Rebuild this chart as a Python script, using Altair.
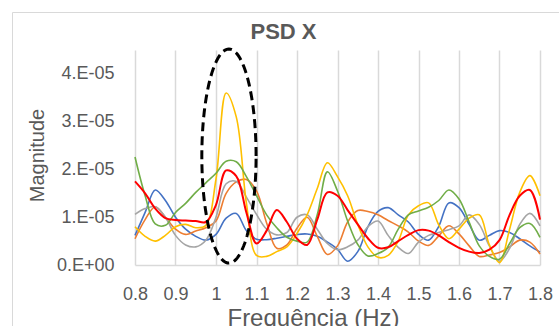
import altair as alt
import numpy as np
import pandas as pd

# Frequency grid (Hz) at which the curves were read
freq = [0.800, 0.825, 0.850, 0.875, 0.900, 0.925, 0.950, 0.975,
        1.000, 1.025, 1.050, 1.075, 1.100, 1.125, 1.150, 1.175,
        1.200, 1.225, 1.250, 1.275, 1.300, 1.325, 1.350, 1.375,
        1.400, 1.425, 1.450, 1.475, 1.500, 1.525, 1.550, 1.575,
        1.600, 1.625, 1.650, 1.675, 1.700, 1.725, 1.750, 1.775, 1.800]

# Magnitudes in units of 1E-05
blue = [0.62, 1.10, 1.57, 1.35, 1.00, 0.75, 0.60, 0.52,
        0.64, 0.98, 1.08, 0.72, 0.54, 0.53, 0.56, 0.60,
        0.64, 0.65, 0.60, 0.48, 0.33, 0.08, 0.28, 0.80,
        1.12, 1.20, 1.05, 0.90, 0.64, 0.52, 0.81, 1.30,
        1.20, 0.85, 0.52, 0.62, 0.72, 0.68, 0.55, 0.40, 0.27]
orange = [0.55, 0.95, 1.22, 1.00, 0.75, 0.64, 0.71, 0.78,
          0.92, 1.50, 1.74, 1.79, 1.55, 0.88, 0.35, 0.42,
          0.77, 1.00, 0.60, 0.22, 0.40, 0.90, 1.14, 1.12,
          1.05, 0.93, 0.82, 0.69, 0.50, 0.41, 0.61, 0.82,
          0.65, 0.40, 0.18, 0.21, 0.26, 0.38, 0.52, 0.48, 0.23]
gray = [1.06, 1.18, 1.22, 1.00, 0.62, 0.42, 0.38, 0.52,
        1.00, 1.70, 1.75, 1.42, 1.06, 0.75, 0.63, 0.68,
        1.00, 1.05, 0.75, 0.45, 0.32, 0.38, 0.52, 0.80,
        0.92, 0.62, 0.37, 0.24, 0.48, 0.62, 0.68, 0.74,
        0.82, 1.05, 0.85, 0.40, 0.08, 0.35, 0.85, 1.08, 0.82]
yellow = [0.80, 0.60, 0.50, 0.62, 0.80, 0.85, 0.78, 0.83,
          1.80, 3.60, 3.10, 1.30, 0.20, 0.18, 0.28, 0.38,
          0.66, 1.05, 1.60, 2.14, 1.85, 1.45, 0.85, 0.38,
          0.16, 0.20, 0.50, 1.05, 1.24, 1.30, 0.84, 0.55,
          0.75, 0.98, 1.05, 0.42, 0.05, 0.75, 1.52, 1.87, 1.45]
green = [2.26, 1.45, 0.86, 0.83, 1.10, 1.29, 1.52, 1.72,
         1.92, 2.17, 2.16, 1.85, 1.45, 1.05, 0.78, 0.58,
         0.50, 0.48, 1.05, 1.95, 1.55, 0.92, 0.43, 0.19,
         0.24, 0.37, 0.75, 1.05, 1.13, 1.21, 1.35, 1.57,
         1.38, 0.90, 0.40, 0.18, 0.12, 0.45, 0.78, 0.87, 0.58]
red = [1.75, 1.50, 1.18, 0.98, 0.94, 0.93, 0.92, 0.90,
       1.26, 1.98, 1.86, 1.10, 0.45, 0.72, 1.15, 0.90,
       0.55, 0.42, 0.95, 1.52, 1.45, 1.15, 0.85, 0.56,
       0.36, 0.37, 0.50, 0.63, 0.73, 0.72, 0.62, 0.48,
       0.36, 0.28, 0.25, 0.32, 0.52, 1.05, 1.45, 1.57, 0.95]

names = ["Série 1", "Série 2", "Série 3", "Série 4", "Série 5"]
colors = ["#4472C4", "#ED7D31", "#A5A5A5", "#FFC000", "#70AD47"]
x_ticks = [0.8, 0.9, 1.0, 1.1, 1.2, 1.3, 1.4, 1.5, 1.6, 1.7, 1.8]
y_ticks = [0, 1e-05, 2e-05, 3e-05, 4e-05]

# Dashed ellipse annotation (centre and radii in data units)
ell_cx, ell_cy, ell_rx, ell_ry = 1.032, 2.28, 0.067, 2.24

rows = []
for n, vals in zip(names, [blue, orange, gray, yellow, green]):
    for f, v in zip(freq, vals):
        rows.append({"series": n, "freq": f, "mag": v * 1e-05})
df_main = pd.DataFrame(rows)
df_red = pd.DataFrame({"freq": freq, "mag": [v * 1e-05 for v in red]})

t = np.linspace(0, 2 * np.pi, 121)
df_ell = pd.DataFrame({
    "i": np.arange(len(t)),
    "freq": ell_cx + ell_rx * np.cos(t),
    "mag": (ell_cy + ell_ry * np.sin(t)) * 1e-05,
})

FONT = "Liberation Sans"
GREY = "#595959"

x_enc = alt.X("freq:Q",
              scale=alt.Scale(domain=[0.8, 1.8], nice=False, zero=False),
              axis=alt.Axis(values=x_ticks, format="~g", grid=True,
                            gridColor="#d9d9d9", gridWidth=1.5,
                            domainColor="#d9d9d9", domainWidth=1.5,
                            ticks=False, labelPadding=20, labelFontSize=18,
                            labelColor=GREY, labelFont=FONT, labelFlush=False,
                            title="Frequência (Hz)", titleFont=FONT,
                            titleFontSize=24, titleFontWeight="normal",
                            titleColor=GREY, titleX=178, titleY=60,
                            titleBaseline="alphabetic"))
y_enc = alt.Y("mag:Q",
              scale=alt.Scale(domain=[0, 4.5e-05], nice=False),
              axis=alt.Axis(values=y_ticks,
                            labelExpr="datum.value == 0 ? '0.E+00' : format(datum.value * 100000, '.0f') + '.E-05'",
                            grid=False, domain=False, ticks=False,
                            labelPadding=21, labelFontSize=18,
                            labelColor=GREY, labelFont=FONT,
                            title="Magnitude", titleFont=FONT,
                            titleFontSize=20, titleFontWeight="normal",
                            titleColor=GREY, titleX=-92, titleY=105,
                            titleAngle=-90, titleAlign="center",
                            titleBaseline="alphabetic"))

lines = alt.Chart(df_main).mark_line(
    interpolate="catmull-rom", strokeWidth=1.6, clip=False
).encode(
    x=x_enc, y=y_enc,
    color=alt.Color("series:N", scale=alt.Scale(domain=names, range=colors),
                    legend=None),
)

red_line = alt.Chart(df_red).mark_line(
    interpolate="catmull-rom", strokeWidth=2.0, color="#FF0000", clip=False
).encode(x="freq:Q", y="mag:Q")

ellipse = alt.Chart(df_ell).mark_line(
    color="black", strokeWidth=3, strokeDash=[9, 5], clip=False
).encode(x="freq:Q", y="mag:Q", order="i:Q")

one = alt.Data(values=[{}])
frame_v = alt.Chart(one).mark_rule(color="#d9d9d9", strokeWidth=1).encode(
    x=alt.value(-122.5), y=alt.value(-37.5), y2=alt.value(300))
frame_h = alt.Chart(one).mark_rule(color="#d9d9d9", strokeWidth=1).encode(
    x=alt.value(-122.5), x2=alt.value(500), y=alt.value(-37.5))

chart = alt.layer(lines, red_line, ellipse, frame_v, frame_h).properties(
    width=405, height=215,
    padding={"left": 135, "top": 50, "right": 19, "bottom": 61},
    autosize="none",
    background="white",
    title=alt.TitleParams("PSD X", font=FONT, fontSize=22, fontWeight="bold",
                          color=GREY, anchor="middle", frame="group",
                          dx=-54, dy=60, baseline="alphabetic", offset=11),
).configure_view(strokeWidth=0)

chart.save("out.html", embed_options={"renderer": "svg", "actions": False})
